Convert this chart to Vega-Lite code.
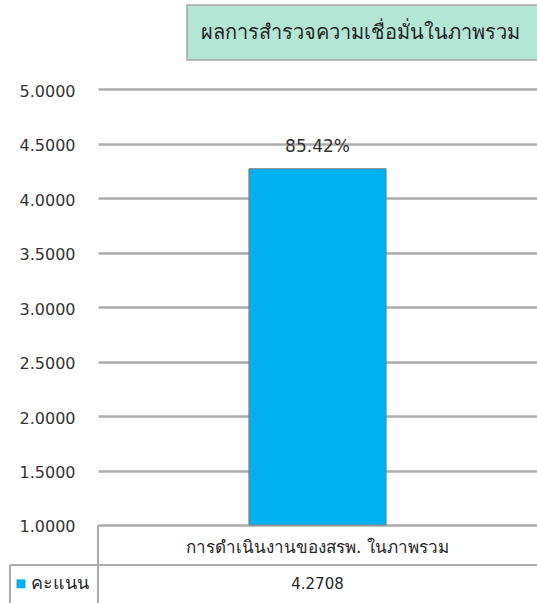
{
  "$schema": "https://vega.github.io/schema/vega-lite/v6.json",
  "autosize": {"type": "none"},
  "padding": {"left": 98, "top": 0, "right": 0, "bottom": 0},
  "width": 439,
  "height": 603,
  "background": "white",
  "config": {"view": {"stroke": null}, "font": "DejaVu Sans", "axis": {"title": null}},
  "data": {"values": [
    {"category": "การดำเนินงานของสรพ. ในภาพรวม", "series": "คะแนน", "value": 4.2708, "pct": "85.42%"}
  ]},
  "resolve": {"scale": {"x": "independent"}},
  "layer": [
    {
      "mark": {"type": "bar", "color": "#00b0f0", "stroke": "#7f7f7f", "strokeWidth": 1},
      "encoding": {
        "x": {"field": "category", "type": "nominal", "axis": null, "scale": {"paddingInner": 0.5, "paddingOuter": 0.55}},
        "y": {"field": "value", "type": "quantitative",
          "scale": {"domain": [0.2837, 5.82], "nice": false, "zero": false},
          "axis": {"values": [1, 1.5, 2, 2.5, 3, 3.5, 4, 4.5, 5], "format": ".4f", "title": null,
            "domain": false, "ticks": false, "grid": true, "gridColor": "#ababab", "gridWidth": 2.5,
            "labelFontSize": 16, "labelColor": "#333333", "labelPadding": 23, "labelFont": "DejaVu Sans", "labelBaseline": "middle", "labelOffset": 2}},
        "y2": {"datum": 1}
      }
    },
    {
      "mark": {"type": "text", "fontSize": 17, "color": "#333333", "dy": -13, "baseline": "bottom"},
      "encoding": {
        "x": {"field": "category", "type": "nominal", "axis": null},
        "y": {"field": "value", "type": "quantitative"},
        "text": {"field": "pct"}
      }
    },
    {
      "mark": {"type": "rect", "fill": "#b4e6d6", "stroke": "#a6a6a6", "strokeWidth": 1.5},
      "encoding": {
        "x": {"datum": 0.2027, "type": "quantitative", "scale": {"domain": [0, 1]}, "axis": null},
        "x2": {"datum": 1.02},
        "y": {"datum": 5.774, "type": "quantitative"},
        "y2": {"datum": 5.269}
      }
    },
    {
      "mark": {"type": "text", "fontSize": 20, "color": "#262626", "align": "center", "baseline": "middle"},
      "encoding": {
        "x": {"datum": 0.597, "type": "quantitative", "scale": {"domain": [0, 1]}, "axis": null},
        "y": {"datum": 5.52, "type": "quantitative"},
        "text": {"value": "ผลการสำรวจความเชื่อมั่นในภาพรวม"}
      }
    },
    {
      "mark": {"type": "rule", "color": "#ababab", "strokeWidth": 2},
      "encoding": {
        "x": {"datum": 0, "type": "quantitative", "scale": {"domain": [0, 1]}, "axis": null},
        "y": {"datum": 1, "type": "quantitative"},
        "y2": {"datum": 0.2}
      }
    },
    {
      "mark": {"type": "rule", "color": "#ababab", "strokeWidth": 2},
      "encoding": {
        "x": {"datum": -0.2005, "type": "quantitative", "scale": {"domain": [0, 1]}, "axis": null},
        "x2": {"datum": 1.02},
        "y": {"datum": 0.6327, "type": "quantitative"}
      }
    },
    {
      "mark": {"type": "rule", "color": "#ababab", "strokeWidth": 2},
      "encoding": {
        "x": {"datum": -0.2005, "type": "quantitative", "scale": {"domain": [0, 1]}, "axis": null},
        "y": {"datum": 0.6327, "type": "quantitative"},
        "y2": {"datum": 0.2}
      }
    },
    {
      "mark": {"type": "text", "fontSize": 17, "color": "#262626", "align": "center", "baseline": "middle"},
      "encoding": {
        "x": {"field": "category", "type": "nominal", "axis": null},
        "y": {"datum": 0.789, "type": "quantitative"},
        "text": {"field": "category"}
      }
    },
    {
      "mark": {"type": "text", "fontSize": 15, "color": "#262626", "align": "center", "baseline": "middle"},
      "encoding": {
        "x": {"field": "category", "type": "nominal", "axis": null},
        "y": {"datum": 0.455, "type": "quantitative"},
        "text": {"field": "value", "format": ".4f"}
      }
    },
    {
      "mark": {"type": "square", "color": "#00b0f0", "opacity": 1, "size": 80},
      "encoding": {
        "x": {"datum": -0.1754, "type": "quantitative", "scale": {"domain": [0, 1]}, "axis": null},
        "y": {"datum": 0.46, "type": "quantitative"}
      }
    },
    {
      "mark": {"type": "text", "fontSize": 18, "color": "#262626", "align": "left", "baseline": "middle"},
      "encoding": {
        "x": {"datum": -0.153, "type": "quantitative", "scale": {"domain": [0, 1]}, "axis": null},
        "y": {"datum": 0.455, "type": "quantitative"},
        "text": {"field": "series"}
      }
    }
  ]
}
